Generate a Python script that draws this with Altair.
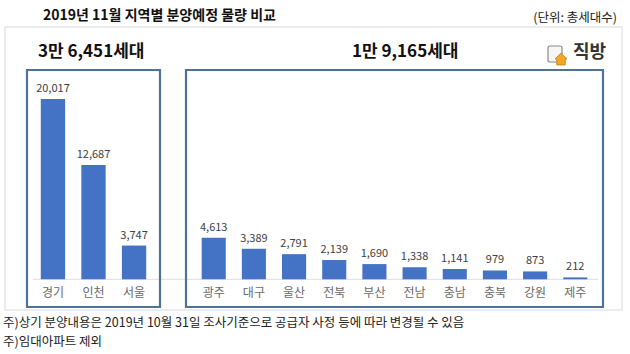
import altair as alt
import pandas as pd

# ---- data ----
cats_left = ["경기", "인천", "서울"]
vals_left = [20017, 12687, 3747]
cats_right = ["광주", "대구", "울산", "전북", "부산", "전남", "충남", "충북", "강원", "제주"]
vals_right = [4613, 3389, 2791, 2139, 1690, 1338, 1141, 979, 873, 212]

title_text = "2019년 11월 지역별 분양예정 물량 비교"
unit_text = "(단위: 총세대수)"
head_left = "3만 6,451세대"
head_right = "1만 9,165세대"
brand = "직방"
notes = ["주)상기 분양내용은 2019년 10월 31일 조사기준으로 공급자 사정 등에 따라 변경될 수 있음",
         "주)임대아파트 제외"]

FONT = "Noto Sans CJK KR"
BAR = "#4472C4"
BOX = "#4f7396"
Y_DOMAIN = [-3075, 23238]
H = 237

df_l = pd.DataFrame({"cat": cats_left, "val": vals_left})
df_r = pd.DataFrame({"cat": cats_right, "val": vals_right})
df_l["lab"] = [f"{v:,}" for v in vals_left]
df_r["lab"] = [f"{v:,}" for v in vals_right]


def one():
    return alt.Data(values=[{"a": 1}])


def txt(s, x, y, size, weight="normal", color="#222222", align="left"):
    return alt.Chart(one()).mark_text(
        text=s, font=FONT, fontSize=size, fontWeight=weight, color=color,
        align=align, baseline="middle"
    ).encode(x=alt.value(x), y=alt.value(y))


def panel(df, width, pad_outer, extras):
    xs = alt.X("cat:N", sort=None, axis=None,
               scale=alt.Scale(paddingInner=0.4, paddingOuter=pad_outer))
    ys = alt.Y("val:Q", axis=None, scale=alt.Scale(domain=Y_DOMAIN, nice=False, zero=False))
    base = alt.Chart(df)
    box = alt.Chart(one()).mark_rect(fill=None, stroke=BOX, strokeWidth=2.2).encode(
        x=alt.value(0), x2=alt.value(width), y=alt.value(0), y2=alt.value(H))
    bars = base.mark_bar(color=BAR).encode(x=xs, y=ys, y2=alt.datum(0))
    vlab = base.mark_text(font=FONT, fontSize=11, color="#404040", dy=-10,
                          baseline="middle").encode(x=xs, y=ys, text="lab:N")
    clab = base.mark_text(font=FONT, fontSize=12, color="#6a6a6a", dy=14,
                          baseline="middle").encode(x=xs, y=alt.datum(0), text="cat:N")
    return alt.layer(*extras, box, bars, vlab, clab).properties(width=width, height=H)


# extras for left panel (origin at page x=27, y=70)
page_bg = alt.Chart(one()).mark_rect(fill="white").encode(
    x=alt.value(-27), x2=alt.value(603), y=alt.value(-70), y2=alt.value(284))
outer_box = alt.Chart(one()).mark_rect(fill=None, stroke="#e6e6e6", strokeWidth=1.5).encode(
    x=alt.value(-22), x2=alt.value(595), y=alt.value(-43), y2=alt.value(240))
baseline = alt.Chart(one()).mark_rule(color="#dedede", strokeWidth=1).encode(
    x=alt.value(6), x2=alt.value(571), y=alt.value(209.3))
left_extras = [
    page_bg,
    outer_box,
    baseline,
    txt(title_text, 16, -54, 14, "bold", "#111111"),
    txt(head_left, 11, -18, 17, "bold", "#111111"),
    txt(notes[0], -24, 253, 12.5, "normal", "#222222"),
    txt(notes[1], -24, 272, 12.5, "normal", "#222222"),
]

# extras for right panel (origin at page x=186, y=70)
doc_icon = alt.Chart(one()).mark_rect(fill="#f6f6f6", stroke="#8a8a8a", strokeWidth=1.2,
                                      cornerRadius=2).encode(
    x=alt.value(362), x2=alt.value(376), y=alt.value(-24), y2=alt.value(-8))
house = alt.Chart(one()).mark_point(
    shape="M0,-1L1,0L0.72,0L0.72,1L-0.72,1L-0.72,0L-1,0Z",
    filled=True, fill="#F5A623", stroke="#c77d0a", strokeWidth=0.8, size=140, opacity=1
).encode(x=alt.value(375), y=alt.value(-11))
right_extras = [
    txt(unit_text, 431, -52, 12.5, "normal", "#222222", "right"),
    txt(head_right, 166, -18, 17, "bold", "#111111"),
    doc_icon,
    house,
    txt(brand, 387, -17, 18, "bold", "#333333"),
]

left = panel(df_l, 133, 0.34, left_extras)
right = panel(df_r, 417, 0.39, right_extras)

chart = alt.hconcat(left, right, spacing=26, bounds="flush").properties(
    padding=0,
    background="white",
).configure_view(stroke=None)

chart.save("out.html", embed_options={"renderer": "svg", "actions": False})
